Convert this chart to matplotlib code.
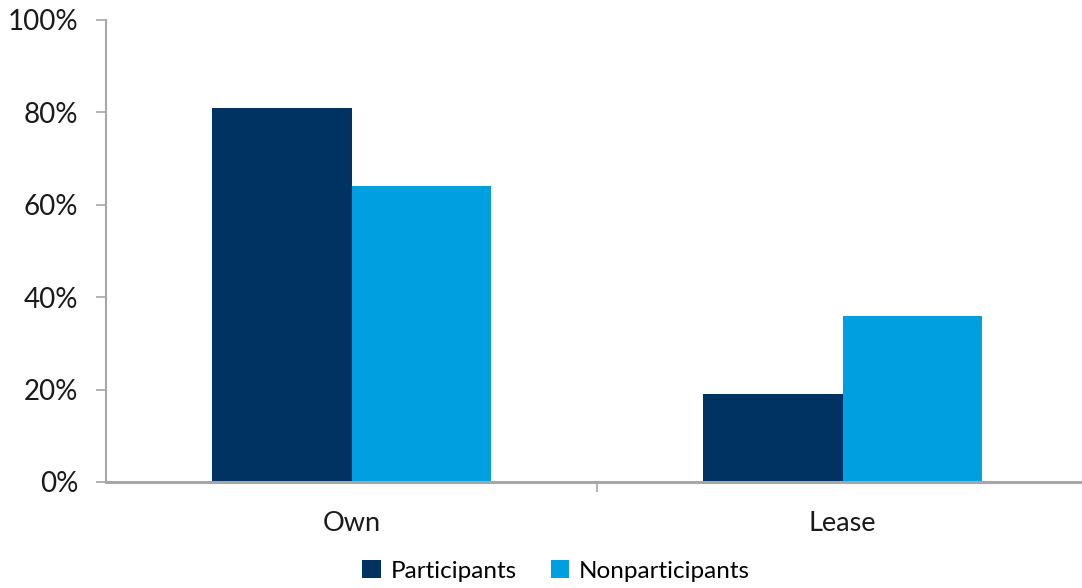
import matplotlib
matplotlib.use("Agg")
import matplotlib.pyplot as plt
import numpy as np
from matplotlib.patches import Patch

categories = ["Own", "Lease"]
participants = [81, 19]
nonparticipants = [64, 36]
series_names = ["Participants", "Nonparticipants"]
y_ticks = [0, 20, 40, 60, 80, 100]
y_tick_labels = ["0%", "20%", "40%", "60%", "80%", "100%"]

dark = "#003262"
light = "#009FE0"
axis_gray = "#A6A6A6"

plt.rcParams["font.family"] = ["Lato", "DejaVu Sans"]

W, H = 1082, 588
fig = plt.figure(figsize=(W / 100, H / 100), dpi=100)
ax = fig.add_axes([106 / W, (H - 482) / H, (1088 - 106) / W, (482 - 20) / H])

x = np.arange(len(categories))
bw = 0.285
ax.bar(x - bw / 2, participants, width=bw, color=dark, label=series_names[0])
ax.bar(x + bw / 2, nonparticipants, width=bw, color=light, label=series_names[1])

ax.set_xlim(-0.5, len(categories) - 0.5)
ax.set_ylim(0, 100)
ax.set_yticks(y_ticks)
ax.set_yticklabels(y_tick_labels, fontsize=20, color="#1a1a1a")
ax.set_xticks([0.5])
ax.set_xticklabels([""])
ax.set_xticks(x, minor=True)
ax.set_xticklabels(categories, minor=True, fontsize=19.5, color="#1a1a1a")
ax.tick_params(axis="x", which="minor", length=0, pad=21)
ax.tick_params(axis="x", which="major", length=7, width=1.2, color=axis_gray, direction="out")
ax.tick_params(axis="y", length=7, width=1.2, color=axis_gray, direction="out", pad=13)

for side in ["top", "right"]:
    ax.spines[side].set_visible(False)
ax.spines["left"].set_color(axis_gray)
ax.spines["left"].set_linewidth(1.5)
ax.spines["bottom"].set_color(axis_gray)
ax.spines["bottom"].set_linewidth(2.2)
ax.set_axisbelow(False)

handles = [Patch(facecolor=dark), Patch(facecolor=light)]
fig.legend(handles, series_names, loc="center", bbox_to_anchor=(556 / W, 1 - 571 / H),
           ncol=2, frameon=False, fontsize=17.5, handlelength=0.75, handleheight=0.75,
           handletextpad=0.4, columnspacing=1.4)

fig.savefig("out.png", dpi=100)
